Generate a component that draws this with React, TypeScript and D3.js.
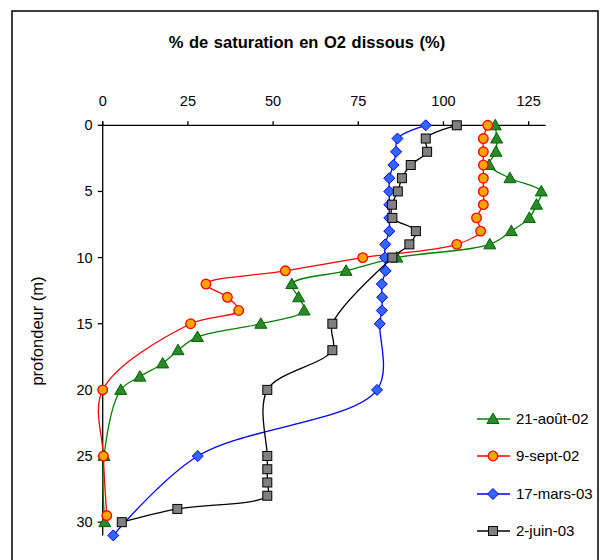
import React from "react";
import * as d3 from "d3";

const xTicks = [0, 25, 50, 75, 100, 125];
const yTicks = [0, 5, 10, 15, 20, 25, 30];

const aoutDepth = [0, 1, 2, 3, 4, 5, 6, 7, 8, 9, 10, 11, 12, 13, 14, 15, 16, 17, 18, 19, 20, 25, 30];
const aoutValue = [115.2, 115.6, 115.4, 113.4, 119.5, 128.7, 127.3, 125.2, 119.9, 113.6, 86.3, 71.4, 55.5, 57.5, 59.1, 46.4, 27.8, 22.1, 17.6, 10.9, 5.3, 0.4, 0.6];

const septDepth = [0, 1, 2, 3, 4, 5, 6, 7, 8, 9, 10, 11, 12, 13, 14, 15, 20, 25, 29.5];
const septValue = [113.0, 111.7, 111.7, 111.7, 111.7, 111.7, 111.7, 109.7, 110.9, 103.9, 76.3, 53.6, 30.3, 36.6, 39.9, 25.8, 0, 0.2, 1.2];

const marsDepth = [0, 1, 2, 3, 4, 5, 6, 7, 8, 9, 10, 11, 12, 13, 14, 15, 20, 25, 31];
const marsValue = [94.8, 86.5, 86.1, 85.3, 84.1, 84.1, 84.1, 84.1, 84.1, 82.9, 82.8, 83.0, 81.9, 82.0, 81.9, 81.3, 80.5, 27.9, 3.1];

const juinDepth = [0, 1, 2, 3, 4, 5, 6, 7, 8, 9, 10, 15, 17, 20, 25, 26, 27, 28, 29, 30];
const juinValue = [103.9, 94.8, 95.2, 90.4, 87.8, 86.6, 84.9, 85.0, 91.9, 90.0, 85.0, 67.4, 67.4, 48.3, 48.3, 48.3, 48.3, 48.3, 21.9, 5.6];

const seriesNames = ["21-août-02", "9-sept-02", "17-mars-03", "2-juin-03"];

type Series = {
  name: string;
  depth: number[];
  value: number[];
  line: string;
  fill: string;
  stroke: string;
  shape: "tri" | "circle" | "diamond" | "square";
};

const series: Series[] = [
  { name: seriesNames[0], depth: aoutDepth, value: aoutValue, line: "#008000", fill: "#2A8A2A", stroke: "#006400", shape: "tri" },
  { name: seriesNames[1], depth: septDepth, value: septValue, line: "#FF0000", fill: "#FFA500", stroke: "#FF0000", shape: "circle" },
  { name: seriesNames[2], depth: marsDepth, value: marsValue, line: "#0000FF", fill: "#3366FF", stroke: "#0000EE", shape: "diamond" },
  { name: seriesNames[3], depth: juinDepth, value: juinValue, line: "#000000", fill: "#808080", stroke: "#000000", shape: "square" },
];

const FONT = "'Liberation Sans', Arial, sans-serif";

function Marker({ shape, x, y, fill, stroke }: { shape: string; x: number; y: number; fill: string; stroke: string }) {
  if (shape === "tri") {
    const s = 6;
    return <path d={`M${x},${y - s} L${x + s},${y + s * 0.75} L${x - s},${y + s * 0.75} Z`} fill={fill} stroke={stroke} strokeWidth={1} />;
  }
  if (shape === "circle") {
    return <circle cx={x} cy={y} r={4.8} fill={fill} stroke={stroke} strokeWidth={1.3} />;
  }
  if (shape === "diamond") {
    const s = 5.5;
    return <path d={`M${x},${y - s} L${x + s},${y} L${x},${y + s} L${x - s},${y} Z`} fill={fill} stroke={stroke} strokeWidth={1} />;
  }
  const s = 4.5;
  return <rect x={x - s} y={y - s} width={2 * s} height={2 * s} fill={fill} stroke={stroke} strokeWidth={1} />;
}

export default function App() {
  const W = 600;
  const H = 560;
  const x = d3.scaleLinear().domain([0, 130]).range([102.7, 545.7]);
  const y = d3.scaleLinear().domain([0, 31]).range([125.3, 535.4]);

  const lineGen = d3
    .line<[number, number]>()
    .x((d) => x(d[0]))
    .y((d) => y(d[1]))
    .curve(d3.curveCatmullRom.alpha(0.5));

  const legendY = [419, 456, 494, 531];

  return (
    <svg width={W} height={H} style={{ position: "absolute", left: 0, top: 0, background: "#fff" }} fontFamily={FONT}>
      <rect x={0} y={0} width={W} height={H} fill="#fff" />
      <rect x={12} y={11} width={586} height={570} fill="none" stroke="#000" strokeWidth={1.5} />
      <text x={307} y={48} textAnchor="middle" fontSize={16.5} fontWeight="bold" wordSpacing={1}>
        % de saturation en O2 dissous (%)
      </text>

      {/* top x axis */}
      <line x1={x(0)} x2={x(130)} y1={y(0)} y2={y(0)} stroke="#000" strokeWidth={1.3} />
      {xTicks.map((t) => (
        <g key={"xt" + t}>
          <line x1={x(t)} x2={x(t)} y1={y(0)} y2={y(0) - 4} stroke="#000" strokeWidth={1.3} />
          <text x={x(t)} y={y(0) - 19} textAnchor="middle" fontSize={14.5}>
            {t}
          </text>
        </g>
      ))}

      {/* left y axis */}
      <line x1={x(0)} x2={x(0)} y1={y(0) - 4} y2={y(31)} stroke="#000" strokeWidth={1.3} />
      {yTicks.map((t) => (
        <g key={"yt" + t}>
          <line x1={x(0) - 5} x2={x(0)} y1={y(t)} y2={y(t)} stroke="#000" strokeWidth={1.3} />
          <text x={x(0) - 10} y={y(t) + 5} textAnchor="end" fontSize={14.5}>
            {t}
          </text>
        </g>
      ))}
      <text transform={`translate(43,331) rotate(-90)`} textAnchor="middle" fontSize={16.5}>
        profondeur (m)
      </text>

      {/* lines */}
      {series.map((s) => (
        <path
          key={"l" + s.name}
          d={lineGen(s.depth.map((d, i) => [s.value[i], d] as [number, number])) || ""}
          fill="none"
          stroke={s.line}
          strokeWidth={1.3}
        />
      ))}
      {/* markers */}
      {series.map((s) => (
        <g key={"m" + s.name}>
          {s.depth.map((d, i) => (
            <Marker key={i} shape={s.shape} x={x(s.value[i])} y={y(d)} fill={s.fill} stroke={s.stroke} />
          ))}
        </g>
      ))}

      {/* legend */}
      {series.map((s, i) => (
        <g key={"lg" + s.name}>
          <line x1={477} x2={510} y1={legendY[i]} y2={legendY[i]} stroke={s.line} strokeWidth={1.3} />
          <Marker shape={s.shape} x={493} y={legendY[i]} fill={s.fill} stroke={s.stroke} />
          <text x={516} y={legendY[i] + 5} fontSize={15}>
            {s.name}
          </text>
        </g>
      ))}
    </svg>
  );
}
